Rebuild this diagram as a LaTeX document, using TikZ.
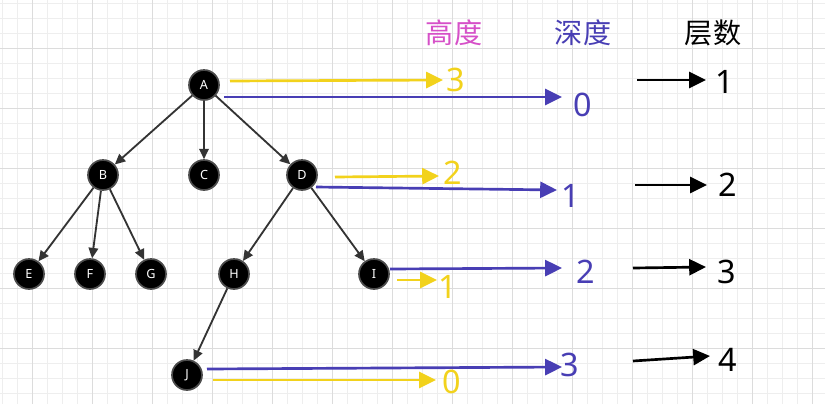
\documentclass[tikz,border=0pt]{standalone}
\usepackage{fontspec}
\setmainfont{Noto Sans}
\newfontfamily\cjk{Noto Sans CJK SC}
\usepackage{xcolor}
\usetikzlibrary{arrows.meta}

\definecolor{hgtcol}{RGB}{242,210,28}
\definecolor{depcol}{RGB}{72,62,180}
\definecolor{hdrpink}{RGB}{214,80,200}
\definecolor{gridminor}{RGB}{238,238,238}
\definecolor{gridmajor}{RGB}{220,220,220}

\begin{document}
\begin{tikzpicture}[
  x=0.025cm, y=-0.025cm,
  vertex/.style={circle, fill=black, draw=black!70, line width=1.2pt, minimum size=0.75cm, inner sep=0pt, text=white, font=\bfseries\fontsize{9}{9}\selectfont},
  edge/.style={-{Triangle[length=2.6mm,width=2.4mm]}, line width=1.3pt, draw=black!80},
  harrow/.style={-{Triangle[length=4.2mm,width=4mm]}, line width=1.9pt, draw=hgtcol},
  darrow/.style={-{Triangle[length=4.2mm,width=4mm]}, line width=1.9pt, draw=depcol},
  larrow/.style={-{Triangle[length=4.2mm,width=4mm]}, line width=1.9pt, draw=black},
  num/.style={inner sep=0pt, font=\fontsize{23}{23}\selectfont},
  header/.style={inner sep=0pt, font=\cjk\fontsize{20}{20}\selectfont},
]
\useasboundingbox (0,0) rectangle (825,404);
\fill[white] (0,0) rectangle (825,404);

% grid
\foreach \x in {2.7,17.7,...,825} \draw[gridminor, line width=0.6pt] (\x,0) -- (\x,404);
\foreach \y in {3,18,...,404} \draw[gridminor, line width=0.6pt] (0,\y) -- (825,\y);
\foreach \x in {32.7,92.7,...,825} \draw[gridmajor, line width=0.7pt] (\x,0) -- (\x,404);
\foreach \y in {48,108,...,404} \draw[gridmajor, line width=0.7pt] (0,\y) -- (825,\y);

% tree
\node[vertex] (A) at (204,85) {A};
\node[vertex] (B) at (103,175) {B};
\node[vertex] (C) at (204,175) {C};
\node[vertex] (D) at (302,175) {D};
\node[vertex] (E) at (29,274) {E};
\node[vertex] (F) at (90,274) {F};
\node[vertex] (G) at (151,274) {G};
\node[vertex] (H) at (234,274) {H};
\node[vertex] (I) at (374,274) {I};
\node[vertex] (J) at (187,375) {J};

\draw[edge] (A) -- (B);
\draw[edge] (A) -- (C);
\draw[edge] (A) -- (D);
\draw[edge] (B) -- (E);
\draw[edge] (B) -- (F);
\draw[edge] (B) -- (G);
\draw[edge] (D) -- (H);
\draw[edge] (D) -- (I);
\draw[edge] (H) -- (J);

% headers
\node[header, text=hdrpink] (hgt) at (454,33) {高度};
\node[header, text=depcol] (dep) at (583,33) {深度};
\node[header, text=black] (lvl) at (713,33) {层数};

% height
\coordinate (ha0) at (230,81);  \coordinate (ha1) at (443,80);
\coordinate (hd0) at (335,177); \coordinate (hd1) at (439,176);
\coordinate (hi0) at (397,280); \coordinate (hi1) at (437,280);
\coordinate (hj0) at (213,380); \coordinate (hj1) at (436,380);
\draw[harrow] (ha0) -- (ha1);
\draw[harrow] (hd0) -- (hd1);
\draw[harrow] (hi0) -- (hi1);
\draw[harrow] (hj0) -- (hj1);
\node[num, text=hgtcol] (ha) at (456,80) {3};
\node[num, text=hgtcol] (hd) at (453,173) {2};
\node[num, text=hgtcol] (hi) at (448,287) {1};
\node[num, text=hgtcol] (hj) at (452,382) {0};

% depth
\coordinate (da0) at (224,97);  \coordinate (da1) at (562,97);
\coordinate (dd0) at (316,187); \coordinate (dd1) at (557,190);
\coordinate (di0) at (390,269); \coordinate (di1) at (562,268);
\coordinate (dj0) at (207,369); \coordinate (dj1) at (562,367);
\draw[darrow] (da0) -- (da1);
\draw[darrow] (dd0) -- (dd1);
\draw[darrow] (di0) -- (di1);
\draw[darrow] (dj0) -- (dj1);
\node[num, text=depcol] (da) at (583,105) {0};
\node[num, text=depcol] (dd) at (571,196) {1};
\node[num, text=depcol] (di) at (586,272) {2};
\node[num, text=depcol] (dj) at (570,365) {3};

% levels
\coordinate (l10) at (637,80);  \coordinate (l11) at (706,80);
\coordinate (l20) at (635,185); \coordinate (l21) at (707,185);
\coordinate (l30) at (633,268); \coordinate (l31) at (706,267);
\coordinate (l40) at (633,361); \coordinate (l41) at (710,356);
\draw[larrow] (l10) -- (l11);
\draw[larrow] (l20) -- (l21);
\draw[larrow] (l30) -- (l31);
\draw[larrow] (l40) -- (l41);
\node[num] (l1) at (725,82) {1};
\node[num] (l2) at (728,185) {2};
\node[num] (l3) at (727,272) {3};
\node[num] (l4) at (728,360) {4};
\end{tikzpicture}
\end{document}
